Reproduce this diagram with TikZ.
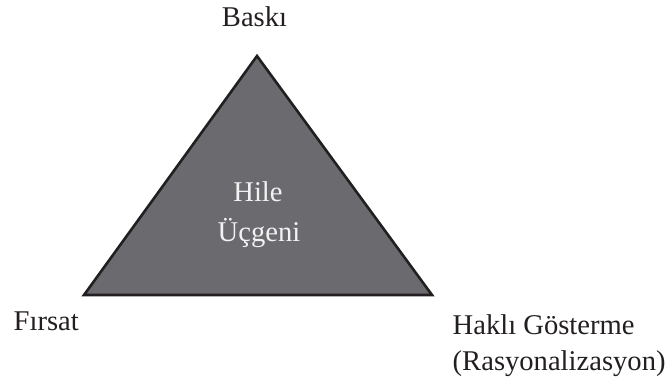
\documentclass[tikz,border=0pt]{standalone}
\usepackage{fontspec}
\setmainfont{Liberation Serif}
\definecolor{trifill}{HTML}{6B6B6F}
\definecolor{labelcol}{HTML}{231F20}
\definecolor{innercol}{HTML}{F2F2F2}
\begin{document}
\begin{tikzpicture}[x=1pt,y=1pt,
  lbl/.style={text=labelcol,font=\fontsize{28.6}{35}\selectfont,inner sep=0pt},
  inlbl/.style={text=innercol,font=\fontsize{28.6}{35}\selectfont,inner sep=0pt},
  tri/.style={fill=trifill,draw=labelcol,line width=2.6pt,line join=miter}]
\useasboundingbox (0,0) rectangle (671,381);
\coordinate (top) at (257,325);
\coordinate (bl) at (84,86);
\coordinate (br) at (432,86);
\draw[tri] (top) -- (br) -- (bl) -- cycle;
\node[inlbl,anchor=base] (hile) at (258,180) {Hile};
\node[inlbl,anchor=base] (ucgen) at (259,140) {Üçgeni};
\node[lbl,anchor=base] (baski) at (254.5,354) {Baskı};
\node[lbl,anchor=base west] (firsat) at (13.5,51) {Fırsat};
\node[lbl,anchor=base west] (hakli) at (452.5,47) {Haklı Gösterme};
\node[lbl,anchor=base west] (rasyo) at (452.5,11) {(Rasyonalizasyon)};
\end{tikzpicture}
\end{document}
